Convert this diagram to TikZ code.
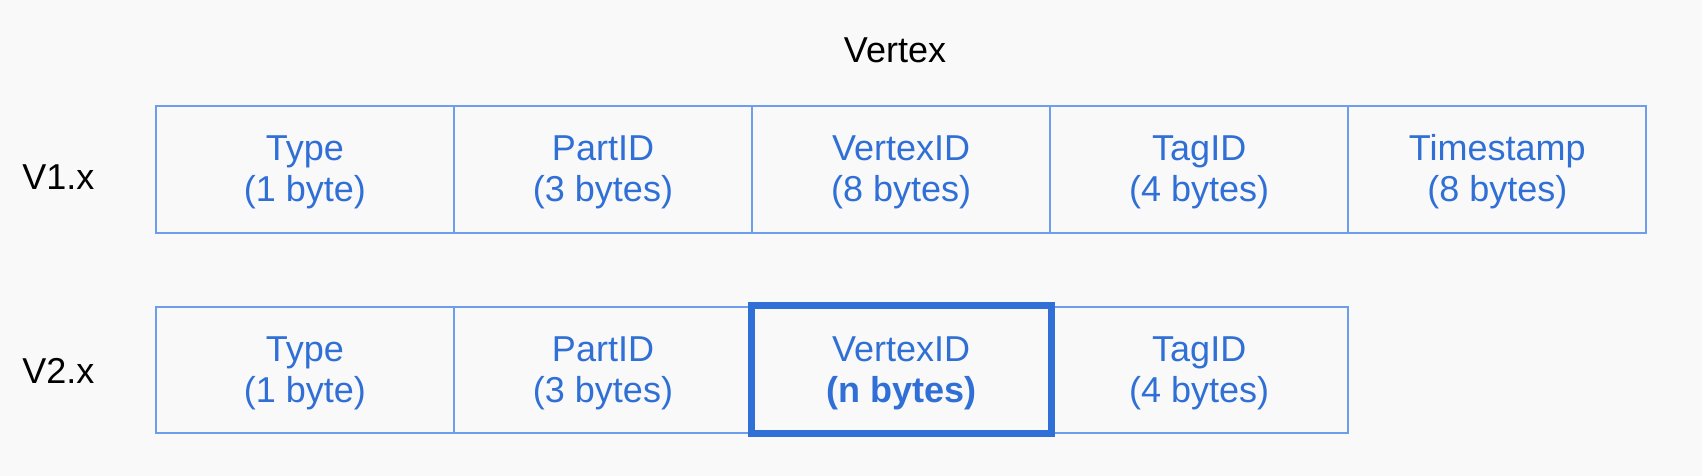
\documentclass[tikz,border=0pt]{standalone}
\usepackage{fontspec}
\setmainfont{Liberation Sans}
\usepackage{tikz}
\usetikzlibrary{chains,positioning}
\definecolor{bg}{HTML}{F9F9F9}
\definecolor{cellline}{HTML}{6D9EEB}
\definecolor{celltext}{HTML}{3070D6}
\tikzstyle{field}=[draw=cellline,line width=2pt,minimum width=298.1pt,minimum height=126pt,inner sep=0pt,align=center,text=celltext,font=\fontsize{36}{41}\selectfont,text height=72.4pt,text depth=7.6pt]
\tikzstyle{rowlabel}=[anchor=base,font=\fontsize{36}{42}\selectfont]
\tikzstyle{changed}=[draw=celltext,line width=7pt]

\begin{document}
\begin{tikzpicture}[x=1pt,y=1pt]
\fill[bg] (0,0) rectangle (1702,-476);
\useasboundingbox (0,0) rectangle (1702,-476);
\node [rowlabel] (title) at (895,-62.7) {Vertex};
\node [rowlabel] (v1) at (58.4,-189) {V1.x};
\node [rowlabel] (v2) at (58.4,-383) {V2.x};
\begin{scope}[start chain=1 going right, node distance=-2pt]
    \node [on chain=1,field] (v1type) at (304.9,-169.5) {Type\\(1 byte)};
    \node [on chain=1,field] (v1part) {PartID\\(3 bytes)};
    \node [on chain=1,field] (v1vid) {VertexID\\(8 bytes)};
    \node [on chain=1,field] (v1tag) {TagID\\(4 bytes)};
    \node [on chain=1,field] (v1ts) {Timestamp\\(8 bytes)};
\end{scope}
\begin{scope}[start chain=2 going right, node distance=-2pt]
    \node [on chain=2,field] (v2type) at (304.9,-369.7) {Type\\(1 byte)};
    \node [on chain=2,field] (v2part) {PartID\\(3 bytes)};
    \node [on chain=2,field] (v2vid) {VertexID\\\textbf{(n bytes)}};
    \node [on chain=2,field] (v2tag) {TagID\\(4 bytes)};
\end{scope}
\draw [changed] (v2vid.north west) rectangle (v2vid.south east);
\end{tikzpicture}
\end{document}
